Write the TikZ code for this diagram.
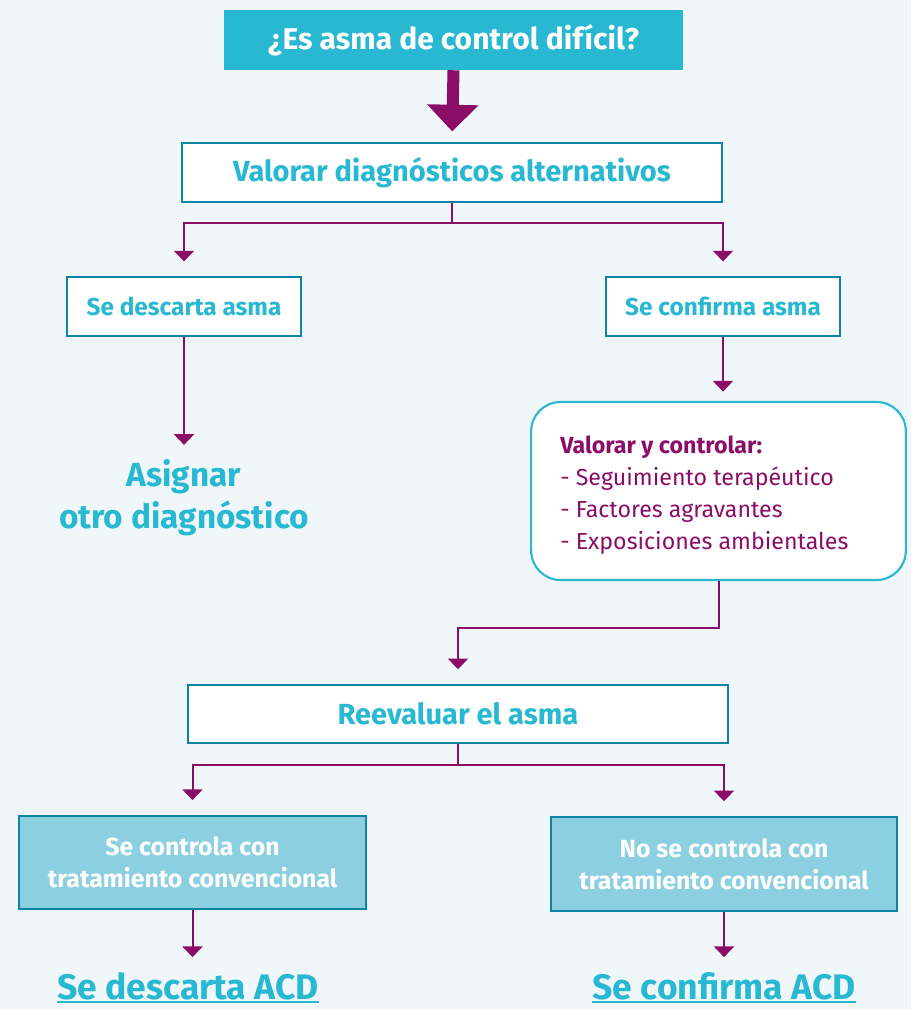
\documentclass[tikz,border=0pt]{standalone}
\usepackage{fontspec}
\setmainfont{Fira Sans}
\usetikzlibrary{arrows.meta,positioning}
\definecolor{cian}{HTML}{29B8D2}
\definecolor{cianosc}{HTML}{0E84A3}
\definecolor{cianclaro}{HTML}{8BCFE0}
\definecolor{morado}{HTML}{8A0E68}
\definecolor{fondo}{HTML}{F0F7FB}
\tikzset{
  caja/.style={draw=cianosc, line width=1.6pt, fill=white, text=cian,
    font=\bfseries, inner sep=0pt, align=center},
  cajafin/.style={caja, fill=cianclaro, text=white},
  resultado/.style={text=cian, font=\bfseries, inner sep=0pt, align=center},
  flecha/.style={draw=morado, line width=1.5pt,
    -{Triangle[width=15pt,length=8pt]}, shorten >=11pt},
}

\begin{document}
\begin{tikzpicture}[x=0.75pt, y=-0.75pt]
  % fondo y margenes
  \fill[fondo] (0,0) rectangle (911,1009);
  \useasboundingbox (0,0) rectangle (911,1009);

  \node [fill=cian, text=white, font=\bfseries\fontsize{22.5}{26}\selectfont,
    minimum width=344pt, minimum height=45pt, inner sep=0pt] (pregunta) at (453.5,40)
    {¿Es asma de control difícil?};
  \node [caja, font=\bfseries\fontsize{21.8}{26}\selectfont,
    minimum width=405pt, minimum height=44pt] (alternativos) at (452,172.5)
    {Valorar diagnósticos alternativos};

  \node [caja, font=\bfseries\fontsize{18.3}{22}\selectfont,
    minimum width=175.5pt, minimum height=44pt] (descarta) at (184,306.5) {Se descarta asma};
  \node [caja, font=\bfseries\fontsize{18.3}{22}\selectfont,
    minimum width=175.5pt, minimum height=44pt] (confirma) at (723,306.5) {Se confirma asma};

  \node [resultado, font=\bfseries\fontsize{25}{31.5}\selectfont] (asignar) at (184,498)
    {Asignar\\otro diagnóstico};

  \node [draw=cian, line width=1.6pt, fill=white, rounded corners=22pt,
    minimum width=281pt, minimum height=133.5pt] (controlar) at (718.5,491) {};
  \node [text=morado, align=left, anchor=west, inner sep=0pt,
    font=\fontsize{17.4}{24}\selectfont] (lista) at (560,495)
    {\textbf{Valorar y controlar:}\\- Seguimiento terapéutico\\- Factores agravantes\\- Exposiciones ambientales};

  \node [caja, font=\bfseries\fontsize{21.8}{26}\selectfont,
    minimum width=405pt, minimum height=43.5pt] (reevaluar) at (458,714) {Reevaluar el asma};

  \node [cajafin, font=\bfseries\fontsize{18.6}{24}\selectfont,
    minimum width=260pt, minimum height=70pt] (sicontrola) at (192.5,862.5)
    {Se controla con\\tratamiento convencional};
  \node [cajafin, font=\bfseries\fontsize{18.6}{24}\selectfont,
    minimum width=259.5pt, minimum height=70.5pt] (nocontrola) at (724,864)
    {No se controla con\\tratamiento convencional};

  \node [resultado, font=\bfseries\fontsize{26.6}{30}\selectfont, anchor=base] (noacd) at (188,999)
    {Se descarta ACD};
  \node [resultado, font=\bfseries\fontsize{26.6}{30}\selectfont, anchor=base] (siacd) at (724,999)
    {Se confirma ACD};
  \draw [cian, line width=1.5pt] ([yshift=-2pt]noacd.base west) -- ([yshift=-2pt]noacd.base east);
  \draw [cian, line width=1.5pt] ([yshift=-2pt]siacd.base west) -- ([yshift=-2pt]siacd.base east);

  % flechas
  \draw [morado, line width=9pt, -{Triangle[width=37.5pt,length=20pt]}, shorten >=8pt]
    (pregunta.south) -- (alternativos.north);
  \draw [flecha] (alternativos.south) -- ++(0,20) -| (descarta.north);
  \draw [flecha] (alternativos.south) -- ++(0,20) -| (confirma.north);
  \draw [flecha] (descarta.south) -- (asignar.north);
  \draw [flecha, shorten >=7pt] (confirma.south) -- (confirma.south |- controlar.north);
  \draw [flecha] (controlar.south) -- ++(0,47) -| (reevaluar.north);
  \draw [flecha] (reevaluar.south) -- ++(0,21) -| (sicontrola.north);
  \draw [flecha] (reevaluar.south) -- ++(0,21) -| (nocontrola.north);
  \draw [flecha] (sicontrola.south) -- (sicontrola.south |- noacd.north);
  \draw [flecha] (nocontrola.south) -- (nocontrola.south |- siacd.north);
\end{tikzpicture}
\end{document}
